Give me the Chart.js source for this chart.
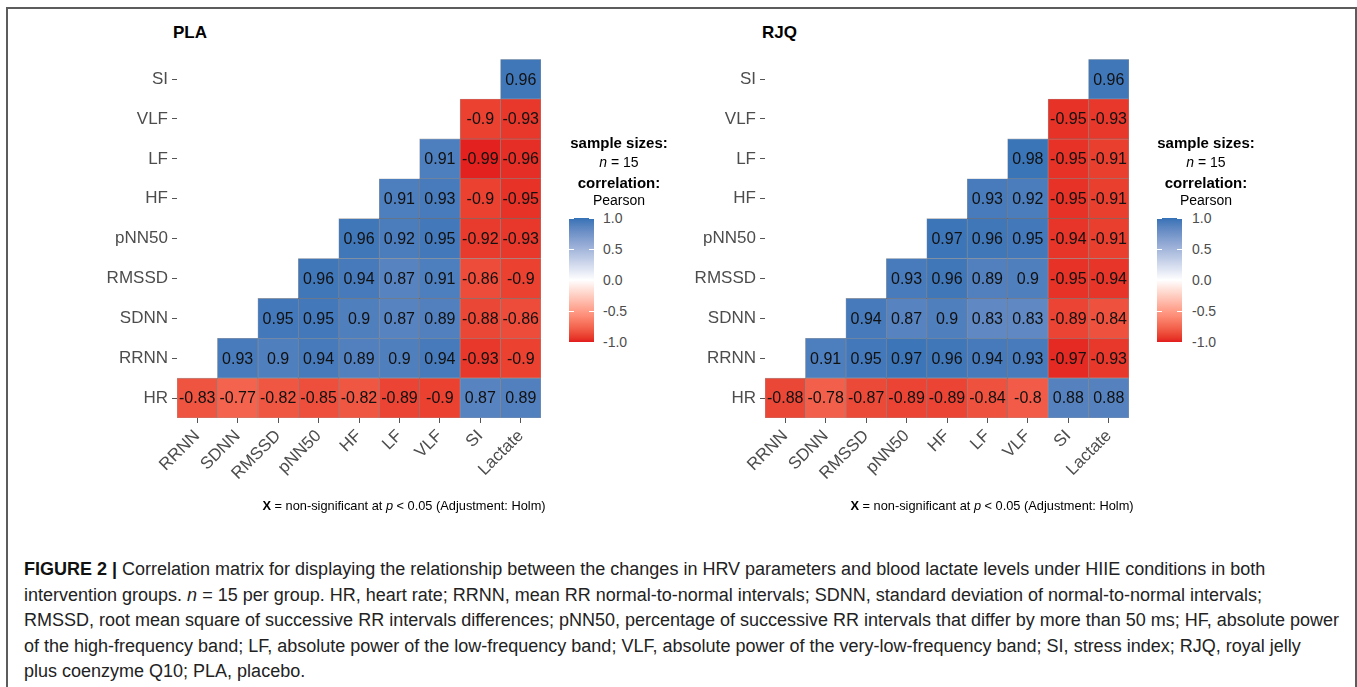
<!DOCTYPE html>
<html><head><meta charset="utf-8">
<script src="https://cdn.jsdelivr.net/npm/chart.js@4.4.0/dist/chart.umd.min.js"></script>
<style>
html,body{margin:0;padding:0;background:#fff;width:1357px;height:687px;overflow:hidden;font-family:"Liberation Sans",Arial,sans-serif;}
#frame{position:absolute;left:6px;top:7px;width:1347px;height:720px;border:2px solid #5c5c5c;border-bottom:none;}
.abs{position:absolute;white-space:nowrap;}
.title{font-weight:bold;font-size:17px;line-height:20px;color:#000;}
.lg{width:160px;text-align:center;font-size:14px;line-height:18px;color:#000;}
.lgb{font-weight:bold;font-size:15px;}
.bar{position:absolute;width:25px;height:124px;}
.tk{position:absolute;height:1px;width:5px;background:#fff;}
.lab{position:absolute;font-size:14px;line-height:16px;color:#4d4d4d;}
.foot{font-size:12.8px;line-height:15px;color:#000;width:400px;text-align:center;}
.cap{font-size:18px;line-height:22px;color:#222;left:24px;}
canvas{position:absolute;}
</style></head>
<body>
<div id="frame"></div>
<div class="abs title" style="left:173px;top:23px;">PLA</div>
<div class="abs title" style="left:762px;top:23px;">RJQ</div>
<canvas id="c1" width="460" height="455" style="left:90px;top:45px;width:460px;height:455px;"></canvas>
<canvas id="c2" width="460" height="455" style="left:678px;top:45px;width:460px;height:455px;"></canvas>
<div id="legends"></div>
<div class="abs foot" style="left:204px;top:498px;"><b>X</b> = non-significant at <i>p</i> &lt; 0.05 (Adjustment: Holm)</div>
<div class="abs foot" style="left:792px;top:498px;"><b>X</b> = non-significant at <i>p</i> &lt; 0.05 (Adjustment: Holm)</div>
<div class="abs cap" style="top:558px;"><b style="color:#111">FIGURE 2 |</b> Correlation matrix for displaying the relationship between the changes in HRV parameters and blood lactate levels under HIIE conditions in both</div>
<div class="abs cap" style="top:583.5px;">intervention groups. <i>n</i> = 15 per group. HR, heart rate; RRNN, mean RR normal-to-normal intervals; SDNN, standard deviation of normal-to-normal intervals;</div>
<div class="abs cap" style="top:609px;">RMSSD, root mean square of successive RR intervals differences; pNN50, percentage of successive RR intervals that differ by more than 50 ms; HF, absolute power</div>
<div class="abs cap" style="top:634.5px;">of the high-frequency band; LF, absolute power of the low-frequency band; VLF, absolute power of the very-low-frequency band; SI, stress index; RJQ, royal jelly</div>
<div class="abs cap" style="top:660px;">plus coenzyme Q10; PLA, placebo.</div>
<script>
// ---- categories (bottom to top rows; left to right columns) ----
const rowLabels = ["HR","RRNN","SDNN","RMSSD","pNN50","HF","LF","VLF","SI"];
const colLabels = ["RRNN","SDNN","RMSSD","pNN50","HF","LF","VLF","SI","Lactate"];
const legendTicks = [1.0, 0.5, 0.0, -0.5, -1.0];

// ---- PLA correlations, one row each (columns as colLabels) ----
const plaHR    = [-0.83,-0.77,-0.82,-0.85,-0.82,-0.89,-0.9, 0.87, 0.89];
const plaRRNN  = [null, 0.93, 0.9, 0.94, 0.89, 0.9, 0.94,-0.93,-0.9];
const plaSDNN  = [null, null, 0.95, 0.95, 0.9, 0.87, 0.89,-0.88,-0.86];
const plaRMSSD = [null, null, null, 0.96, 0.94, 0.87, 0.91,-0.86,-0.9];
const plaPNN50 = [null, null, null, null, 0.96, 0.92, 0.95,-0.92,-0.93];
const plaHF    = [null, null, null, null, null, 0.91, 0.93,-0.9,-0.95];
const plaLF    = [null, null, null, null, null, null, 0.91,-0.99,-0.96];
const plaVLF   = [null, null, null, null, null, null, null,-0.9,-0.93];
const plaSI    = [null, null, null, null, null, null, null, null, 0.96];

// ---- RJQ correlations ----
const rjqHR    = [-0.88,-0.78,-0.87,-0.89,-0.89,-0.84,-0.8, 0.88, 0.88];
const rjqRRNN  = [null, 0.91, 0.95, 0.97, 0.96, 0.94, 0.93,-0.97,-0.93];
const rjqSDNN  = [null, null, 0.94, 0.87, 0.9, 0.83, 0.83,-0.89,-0.84];
const rjqRMSSD = [null, null, null, 0.93, 0.96, 0.89, 0.9,-0.95,-0.94];
const rjqPNN50 = [null, null, null, null, 0.97, 0.96, 0.95,-0.94,-0.91];
const rjqHF    = [null, null, null, null, null, 0.93, 0.92,-0.95,-0.91];
const rjqLF    = [null, null, null, null, null, null, 0.98,-0.95,-0.91];
const rjqVLF   = [null, null, null, null, null, null, null,-0.95,-0.93];
const rjqSI    = [null, null, null, null, null, null, null, null, 0.96];

const plaRows = [plaHR, plaRRNN, plaSDNN, plaRMSSD, plaPNN50, plaHF, plaLF, plaVLF, plaSI];
const rjqRows = [rjqHR, rjqRRNN, rjqSDNN, rjqRMSSD, rjqPNN50, rjqHF, rjqLF, rjqVLF, rjqSI];

// ---- colour scale (Lab interpolation, like ggplot gradient2) ----
const HIGH = [52,114,182], LOW = [226,28,28], MID = [255,255,255];
function lin(c){c/=255;return c<=0.04045?c/12.92:Math.pow((c+0.055)/1.055,2.4);}
function delin(c){c=c<=0.0031308?12.92*c:1.055*Math.pow(c,1/2.4)-0.055;return Math.round(Math.max(0,Math.min(1,c))*255);}
function toLab(rgb){const R=lin(rgb[0]),G=lin(rgb[1]),B=lin(rgb[2]);
  const X=(0.4124*R+0.3576*G+0.1805*B)/0.95047,Y=(0.2126*R+0.7152*G+0.0722*B),Z=(0.0193*R+0.1192*G+0.9505*B)/1.08883;
  const f=t=>t>0.008856?Math.cbrt(t):7.787*t+16/116;const fx=f(X),fy=f(Y),fz=f(Z);
  return [116*fy-16,500*(fx-fy),200*(fy-fz)];}
function fromLab(l){const fy=(l[0]+16)/116,fx=fy+l[1]/500,fz=fy-l[2]/200;
  const fi=t=>t*t*t>0.008856?t*t*t:(t-16/116)/7.787;
  const X=fi(fx)*0.95047,Y=fi(fy),Z=fi(fz)*1.08883;
  const R=3.2406*X-1.5372*Y-0.4986*Z,G=-0.9689*X+1.8758*Y+0.0415*Z,B=0.0557*X-0.2040*Y+1.0570*Z;
  return [delin(R),delin(G),delin(B)];}
const labH=toLab(HIGH),labL=toLab(LOW),labM=toLab(MID);
function colorFor(v){const t=Math.min(1,Math.abs(v));const e=v>=0?labH:labL;
  const c=fromLab([0,1,2].map(k=>labM[k]+(e[k]-labM[k])*t));return `rgb(${c[0]},${c[1]},${c[2]})`;}

// ---- cell value text plugin ----
const cellText = {id:'cellText', afterDatasetsDraw(chart){
  const ctx=chart.ctx; ctx.save();
  ctx.font='16px "Liberation Sans", Arial, sans-serif'; ctx.fillStyle='#111';
  ctx.textAlign='center'; ctx.textBaseline='middle';
  chart.data.datasets.forEach((ds,di)=>{
    chart.getDatasetMeta(di).data.forEach((el,i)=>{
      const v=ds.values[i]; if(v==null) return;
      ctx.fillText(String(v), el.x, (el.y+el.base)/2 + 1);
    });
  });
  ctx.restore();
}};

function makeChart(id, rows){
  const datasets = rows.map((vals, r) => ({
    data: vals.map(v => v==null ? null : [r, r+1]),
    values: vals,
    backgroundColor: vals.map(v => v==null ? 'rgba(0,0,0,0)' : colorFor(v)),
    borderColor: 'rgba(45,45,45,0.45)',
    borderWidth: 0.6,
    borderSkipped: false,
    grouped: false,
    barPercentage: 1,
    categoryPercentage: 1
  }));
  new Chart(document.getElementById(id), {
    type: 'bar',
    data: { labels: colLabels, datasets },
    plugins: [cellText],
    options: {
      responsive: false, animation: false,
      layout: { padding: { top: 10, right: 9, left: 0, bottom: 0 } },
      plugins: { legend: { display: false }, tooltip: { enabled: false } },
      scales: {
        x: {
          type: 'category', offset: true,
          grid: { offset: false, drawOnChartArea: false, drawTicks: true, tickLength: 5, color: '#555', lineWidth: 1 },
          border: { display: false },
          ticks: { autoSkip: false, minRotation: 45, maxRotation: 45, padding: 3,
                   color: '#4d4d4d', font: { family: '"Liberation Sans", Arial, sans-serif', size: 17 } },
          afterFit(s){ s.height = 82; }
        },
        y: {
          type: 'linear', min: 0, max: rowLabels.length,
          afterBuildTicks(s){ s.ticks = rowLabels.map((_, i) => ({ value: i + 0.5 })); },
          grid: { drawOnChartArea: false, drawTicks: true, tickLength: 5, color: '#555', lineWidth: 1 },
          border: { display: false },
          ticks: { autoSkip: false, padding: 4, color: '#4d4d4d',
                   font: { family: '"Liberation Sans", Arial, sans-serif', size: 17 },
                   callback: (v, i) => rowLabels[i] },
          afterFit(s){ s.width = 87; }
        }
      }
    }
  });
}
makeChart('c1', plaRows);
makeChart('c2', rjqRows);

// ---- legends ----
function makeLegend(cx, barLeft, labLeft){
  const host=document.getElementById('legends');
  const lines=[['<span class="lgb">sample sizes:</span>',143],['<i>n</i> = 15',162],['<span class="lgb">correlation:</span>',183],['Pearson',200]];
  lines.forEach(([h,y])=>{const d=document.createElement('div');d.className='abs lg';d.style.left=(cx-80)+'px';d.style.top=(y-9)+'px';d.innerHTML=h;host.appendChild(d);});
  const bar=document.createElement('div');bar.className='bar';bar.style.left=barLeft+'px';bar.style.top='218px';
  const stops=[];for(let k=0;k<=40;k++){const v=1-2*k/40;stops.push(colorFor(v)+' '+(k*2.5)+'%');}
  bar.style.background='linear-gradient(to bottom,'+stops.join(',')+')';host.appendChild(bar);
  legendTicks.forEach(t=>{
    const y=218+(1-t)/2*124;
    [0,20].forEach(dx=>{const k=document.createElement('div');k.className='tk';k.style.left=(barLeft+dx)+'px';k.style.top=(Math.round(y)-0.5)+'px';host.appendChild(k);});
    const l=document.createElement('div');l.className='lab';l.style.left=labLeft+'px';l.style.top=(y-8)+'px';l.textContent=t.toFixed(1);host.appendChild(l);
  });
}
makeLegend(619, 569, 603);
makeLegend(1206, 1157, 1192);
</script>
</body></html>
